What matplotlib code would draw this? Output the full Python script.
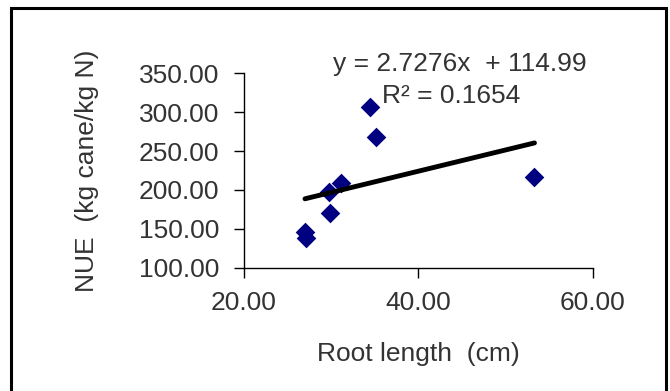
import numpy as np
import matplotlib
matplotlib.use('Agg')
import matplotlib.pyplot as plt
from matplotlib.patches import Rectangle

plt.rcParams['font.family'] = ['Liberation Sans', 'DejaVu Sans']

# data
root_length = [34.4, 35.1, 53.3, 31.1, 29.8, 29.9, 27.0, 27.1]
nue = [306, 268, 216, 209, 197, 171, 146, 138]
slope = 2.7276
intercept = 114.99
r2 = 0.1654

fig = plt.figure(figsize=(6.7, 3.91), dpi=100)
ax = fig.add_axes([0.364, 0.315, 0.521, 0.498])

# border round the whole chart (bottom edge is cut off in the original)
fig.patches.append(Rectangle((11 / 670, -0.05), 655 / 670, 1 - 8 / 391 + 0.05,
                             transform=fig.transFigure, fill=False,
                             edgecolor='black', linewidth=2.2))

ax.scatter(root_length, nue, marker='D', s=100, color='#000080', zorder=3,
           linewidths=0)

xs = np.array([min(root_length), max(root_length)])
ax.plot(xs, slope * xs + intercept, color='black', linewidth=3.5,
        solid_capstyle='round', zorder=4)

ax.set_xlim(20, 60)
ax.set_ylim(100, 350)
ax.set_xticks([20, 40, 60])
ax.set_yticks([100, 150, 200, 250, 300, 350])
ax.xaxis.set_major_formatter(matplotlib.ticker.FormatStrFormatter('%.2f'))
ax.yaxis.set_major_formatter(matplotlib.ticker.FormatStrFormatter('%.2f'))
ax.tick_params(labelsize=19, length=7, width=1, colors='black',
               labelcolor='#333333')
ax.tick_params(axis='x', pad=10)
ax.tick_params(axis='y', pad=11)

for s in ['top', 'right']:
    ax.spines[s].set_visible(False)
for s in ['left', 'bottom']:
    ax.spines[s].set_linewidth(1)

ax.set_xlabel('Root length  (cm)', fontsize=19, color='#333333', labelpad=19)
ax.set_ylabel('NUE  (kg cane/kg N)', fontsize=19, color='#333333', labelpad=28)

ax.text(0.619, 1.046, 'y = %.4fx  + %.2f' % (slope, intercept),
        transform=ax.transAxes, fontsize=19, color='#333333',
        ha='center', va='center')
ax.text(0.593, 0.882, 'R² = %.4f' % r2, transform=ax.transAxes, fontsize=19,
        color='#333333', ha='center', va='center')

fig.savefig('out.png', dpi=100)
